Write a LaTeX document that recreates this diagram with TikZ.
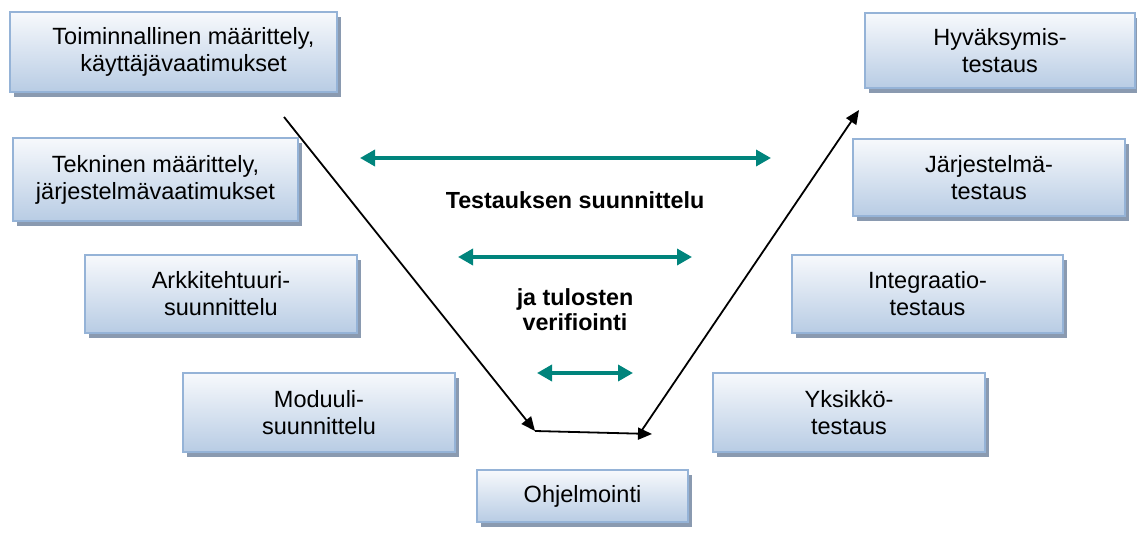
\documentclass[tikz,border=0pt]{standalone}
\usepackage{fontspec}
\setmainfont{Liberation Sans}
\usetikzlibrary{arrows.meta,shadows}
\definecolor{boxtop}{HTML}{F7F9FC}
\definecolor{boxbottom}{HTML}{B8CCE4}
\definecolor{boxline}{HTML}{95B3D7}
\definecolor{boxshadow}{HTML}{8A9AB0}
\definecolor{teal}{HTML}{00847C}
\tikzset{
  phase/.style={rectangle, draw=boxline, line width=1.5pt,
    top color=boxtop, bottom color=boxbottom,
    general shadow={shadow xshift=4pt, shadow yshift=-5pt, fill=boxshadow},
    align=center, inner sep=0pt,
    font=\fontsize{23.5}{27}\selectfont},
  flow/.style={draw=black, line width=1.8pt,
    -{Triangle[length=14pt,width=12pt]}},
  span/.style={draw=teal, line width=3.5pt,
    {Triangle[length=15pt,width=16pt]}-{Triangle[length=15pt,width=16pt]}},
  caption/.style={font=\fontsize{23.3}{25}\selectfont\bfseries, align=center}
}
\begin{document}
\begin{tikzpicture}[x=1pt,y=-1pt]
\useasboundingbox (0,0) rectangle (1137,534);

% design phases (left branch)
\node[phase, minimum width=327pt, minimum height=80pt] (req) at (173.5,52)
  {\hspace*{20pt}Toiminnallinen määrittely,\\\hspace*{20pt}käyttäjävaatimukset};
\node[phase, minimum width=285pt, minimum height=83pt] (tech) at (155.5,179.5)
  {Tekninen määrittely,\\järjestelmävaatimukset};
\node[phase, minimum width=272pt, minimum height=78pt] (arch) at (221,294)
  {Arkkitehtuuri-\\suunnittelu};
\node[phase, minimum width=272pt, minimum height=79pt] (mod) at (319,412.5)
  {Moduuli-\\suunnittelu};

% implementation
\node[phase, minimum width=211pt, minimum height=52pt] (code) at (582.5,496)
  {Ohjelmointi};

% test phases (right branch)
\node[phase, minimum width=270pt, minimum height=75pt] (acc) at (1000,50.5)
  {Hyväksymis-\\testaus};
\node[phase, minimum width=272pt, minimum height=77pt] (sys) at (989,177.5)
  {Järjestelmä-\\testaus};
\node[phase, minimum width=271pt, minimum height=78pt] (integ) at (927.5,294)
  {Integraatio-\\testaus};
\node[phase, minimum width=272pt, minimum height=79pt] (unit) at (849,412.5)
  {Yksikkö-\\testaus};

% V-shaped process flow
\coordinate (vstart) at (284,117);
\coordinate (vleft) at (535,431);
\coordinate (vright) at (652,434);
\coordinate (vbase) at (640,433);
\coordinate (vend) at (859,110);
\draw[flow] (vstart) -- (vleft);
\draw[flow] (vleft) -- (vright);
\draw[flow] (vbase) -- (vend);

% test planning spans
\coordinate (s1a) at (360,158);
\coordinate (s1b) at (771,158);
\coordinate (s2a) at (458,257);
\coordinate (s2b) at (692,257);
\coordinate (s3a) at (537,373);
\coordinate (s3b) at (633,373);
\draw[span] (s1a) -- (s1b);
\draw[span] (s2a) -- (s2b);
\draw[span] (s3a) -- (s3b);

\node[caption] (plan) at (575,200) {Testauksen suunnittelu};
\node[caption] (verify) at (575,310) {ja tulosten\\verifiointi};
\end{tikzpicture}
\end{document}
